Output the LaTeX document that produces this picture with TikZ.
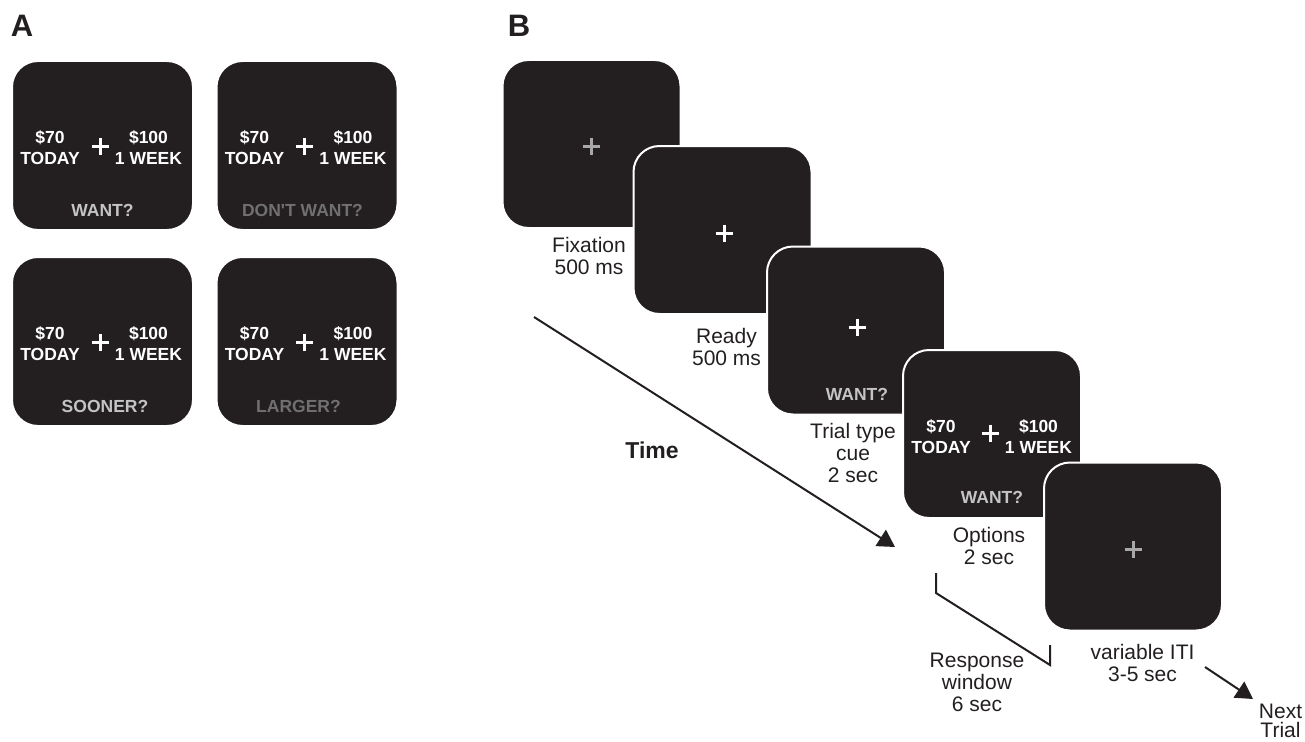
\documentclass[tikz,border=0pt]{standalone}
\usepackage{fontspec}
\setmainfont{Liberation Sans}
\usepackage{tikz}
\usetikzlibrary{positioning}
\usetikzlibrary{arrows.meta}
\usepackage{xcolor}

\definecolor{screenbg}{HTML}{231F20}
\definecolor{ink}{HTML}{231F20}
\definecolor{cuegray}{RGB}{196,196,196}
\definecolor{dimgray}{RGB}{112,112,112}
\definecolor{fixgray}{RGB}{168,168,168}

\begin{document}
\begin{tikzpicture}[x=1pt, y=-1pt,
    screenbox/.style={draw=white, line width=2pt, fill=screenbg, rounded corners=26pt,
        minimum width=178pt, minimum height=168pt, inner sep=0pt},
    bigscreen/.style={screenbox, minimum width=181pt, minimum height=169pt},
    money/.style={align=center, inner sep=0pt, text=white, font=\fontsize{17.5}{21.5}\selectfont\bfseries},
    prompt/.style={inner sep=0pt, font=\fontsize{17.5}{21}\selectfont\bfseries},
    xhair/.style={line width=3pt},
    stepnote/.style={align=center, inner sep=0pt, text=ink, font=\fontsize{21}{22}\selectfont},
    timeline/.style={line width=2pt, draw=ink, -{Triangle[length=17pt, width=19pt]}},
    panel/.style={inner sep=0pt, text=ink, font=\fontsize{31}{31}\selectfont\bfseries}
]
    \useasboundingbox (0,0) rectangle (1305,741);

    % Panel letters
    \node (lblA) [panel] at (22,26) {A};
    \node (lblB) [panel] at (519,26) {B};

    % Panel A: the four trial types
    \node (a1) [bigscreen] at (102.5,145.5) {};
    \draw[xhair, white] (a1.center) ++(-2.5,1) +(-8.5,0) -- +(8.5,0) +(0,-8.5) -- +(0,8.5);
    \node (a1now) [money, xshift=-52.5pt, yshift=-2pt] at (a1) {\$70\\TODAY};
    \node (a1later) [money, xshift=46pt, yshift=-2pt] at (a1) {\$100\\1 WEEK};
    \node (a1ask) [prompt, text=cuegray, yshift=-64.5pt] at (a1) {WANT?};

    \node (a2) [bigscreen] at (307,145.5) {};
    \draw[xhair, white] (a2.center) ++(-2.5,1) +(-8.5,0) -- +(8.5,0) +(0,-8.5) -- +(0,8.5);
    \node (a2now) [money, xshift=-52.5pt, yshift=-2pt] at (a2) {\$70\\TODAY};
    \node (a2later) [money, xshift=46pt, yshift=-2pt] at (a2) {\$100\\1 WEEK};
    \node (a2ask) [prompt, text=dimgray, xshift=-4.5pt, yshift=-64.5pt] at (a2) {DON\textquotesingle T WANT?};

    \node (a3) [bigscreen] at (102.5,341.5) {};
    \draw[xhair, white] (a3.center) ++(-2.5,1) +(-8.5,0) -- +(8.5,0) +(0,-8.5) -- +(0,8.5);
    \node (a3now) [money, xshift=-52.5pt, yshift=-2pt] at (a3) {\$70\\TODAY};
    \node (a3later) [money, xshift=46pt, yshift=-2pt] at (a3) {\$100\\1 WEEK};
    \node (a3ask) [prompt, text=cuegray, xshift=2.5pt, yshift=-64.5pt] at (a3) {SOONER?};

    \node (a4) [bigscreen] at (307,341.5) {};
    \draw[xhair, white] (a4.center) ++(-2.5,1) +(-8.5,0) -- +(8.5,0) +(0,-8.5) -- +(0,8.5);
    \node (a4now) [money, xshift=-52.5pt, yshift=-2pt] at (a4) {\$70\\TODAY};
    \node (a4later) [money, xshift=46pt, yshift=-2pt] at (a4) {\$100\\1 WEEK};
    \node (a4ask) [prompt, text=dimgray, xshift=-8.5pt, yshift=-64.5pt] at (a4) {LARGER?};

    % Panel B: one trial, screen after screen
    \node (fix) [screenbox] at (591.5,144) {};
    \draw[xhair, fixgray] (fix.center) ++(0,2) +(-8.5,0) -- +(8.5,0) +(0,-8.5) -- +(0,8.5);
    \node (fixnote) [stepnote, below=8pt of fix, xshift=-2.5pt] {Fixation\\500 ms};

    \node (ready) [screenbox] at (722.5,230) {};
    \draw[xhair, white] (ready.center) ++(1.5,3) +(-8.5,0) -- +(8.5,0) +(0,-8.5) -- +(0,8.5);
    \node (readynote) [stepnote, below=13pt of ready, xshift=4pt] {Ready\\500 ms};

    \node (cue) [screenbox] at (856,330.5) {};
    \draw[xhair, white] (cue.center) ++(1,-3.5) +(-8.5,0) -- +(8.5,0) +(0,-8.5) -- +(0,8.5);
    \node (cueask) [prompt, text=cuegray, xshift=1pt, yshift=-63.5pt] at (cue) {WANT?};
    \node (cuenote) [stepnote, below=7.5pt of cue, xshift=-3pt] {Trial type\\cue\\2 sec};

    \node (opts) [screenbox] at (992,434) {};
    \draw[xhair, white] (opts.center) ++(-2,-1) +(-8.5,0) -- +(8.5,0) +(0,-8.5) -- +(0,8.5);
    \node (optsnow) [money, xshift=-51pt, yshift=-2.5pt] at (opts) {\$70\\TODAY};
    \node (optslater) [money, xshift=46.5pt, yshift=-2.5pt] at (opts) {\$100\\1 WEEK};
    \node (optsask) [prompt, text=cuegray, yshift=-63pt] at (opts) {WANT?};
    \node (optsnote) [stepnote, below=8pt of opts, xshift=-3pt] {Options\\2 sec};

    \node (iti) [screenbox] at (1133,546.5) {};
    \draw[xhair, fixgray] (iti.center) ++(0,2.5) +(-8.5,0) -- +(8.5,0) +(0,-8.5) -- +(0,8.5);
    \node (itinote) [stepnote, below=12.5pt of iti, xshift=9.5pt] {variable ITI\\3-5 sec};

    % Time axis
    \coordinate (tstart) at (534,317);
    \coordinate (tend) at (895,547);
    \draw[timeline] (tstart) -- (tend);
    \node (timelbl) [inner sep=0pt, text=ink, font=\fontsize{23}{23}\selectfont\bfseries] at (652,450) {Time};

    % Response window bracket
    \coordinate (rwtop) at (936,573);
    \coordinate (rwbend) at (936,593);
    \coordinate (rwfoot) at (1050,665);
    \coordinate (rwend) at (1050,645);
    \draw[line width=2pt, ink] (rwtop) -- (rwbend) -- (rwfoot) -- (rwend);
    \node (rwnote) [stepnote, anchor=north] at (977,653) {Response\\window\\6 sec};

    % On to the next trial
    \coordinate (nstart) at (1205,667);
    \coordinate (nend) at (1253,699);
    \draw[timeline] (nstart) -- (nend);
    \node (nextnote) [stepnote, anchor=north, font=\fontsize{21}{19}\selectfont] at (1280.5,704) {Next\\Trial};
\end{tikzpicture}
\end{document}
